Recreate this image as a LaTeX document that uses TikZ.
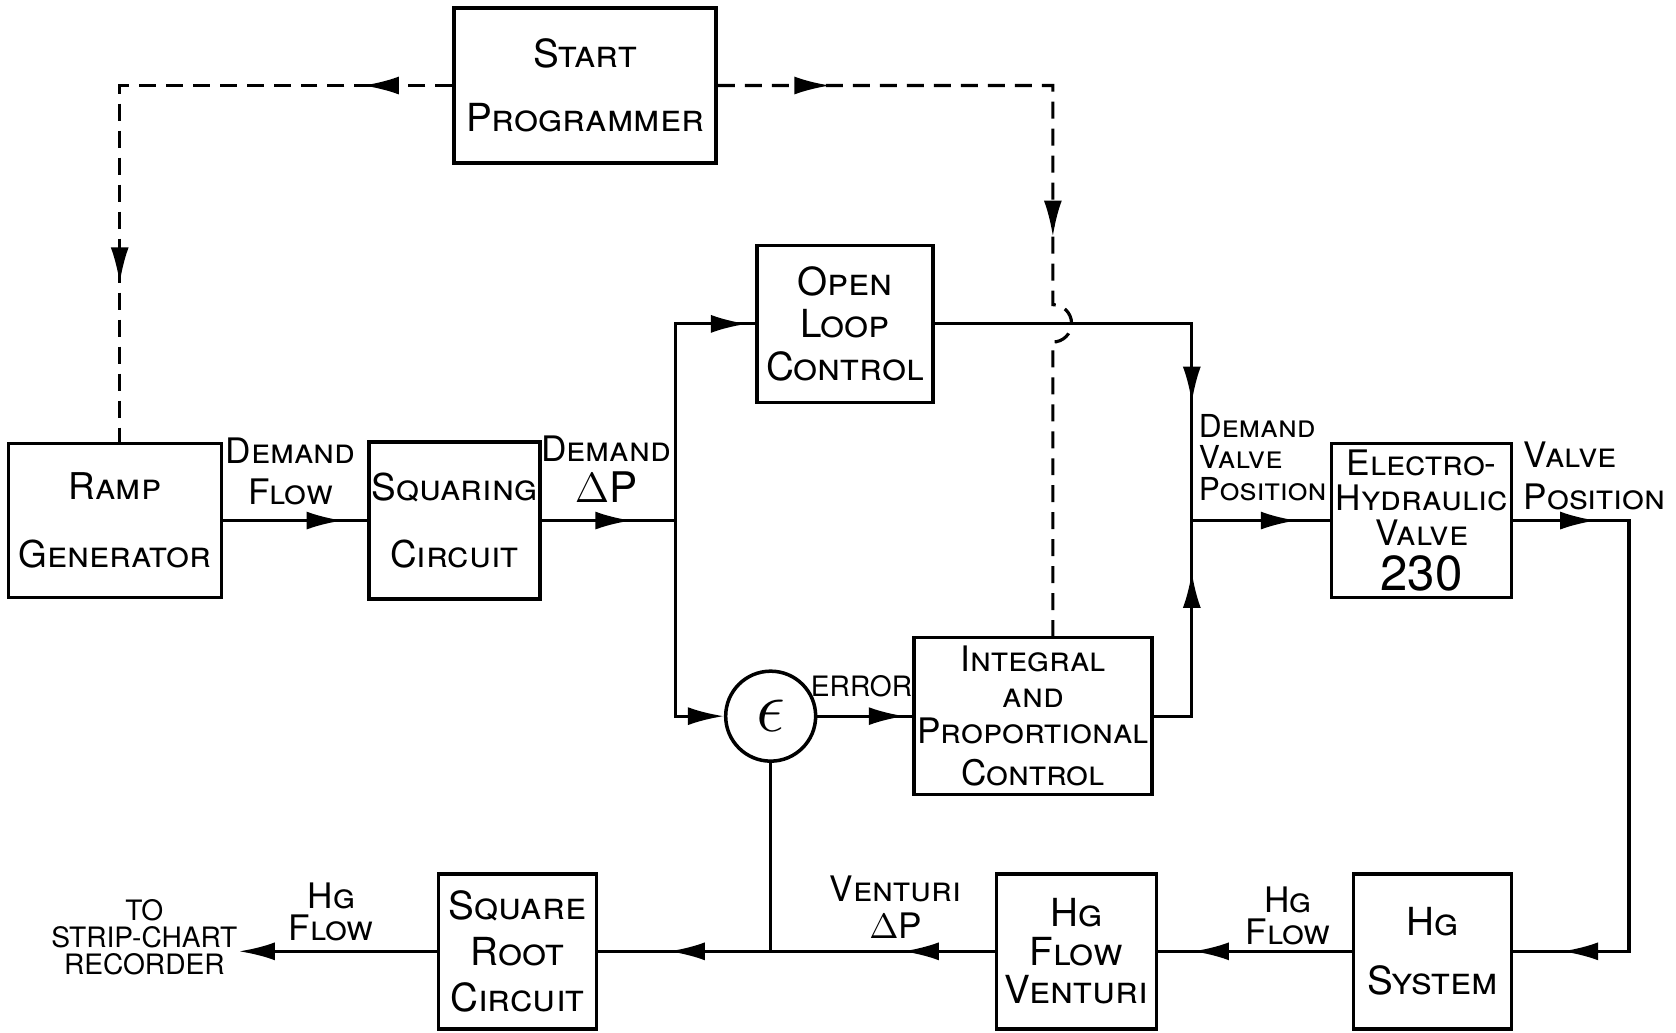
\documentclass[tikz,border=0pt]{standalone}
\usepackage{fontspec}
\setmainfont{TeX Gyre Heros}
\usetikzlibrary{calc,arrows.meta,decorations.markings}

\begin{document}
\begin{tikzpicture}[x=0.1069mm, y=-0.1069mm, line width=0.9pt,
	>={Latex[length=3.6mm,width=1.8mm]},
	block/.style={draw, rectangle, inner sep=0pt, align=center, line width=1pt, font=\fontsize{11}{13}\selectfont\scshape},
	lbl/.style={inner sep=0pt, align=center, font=\fontsize{10}{9}\selectfont\scshape},
	caplbl/.style={inner sep=0pt, align=center, font=\fontsize{8}{7.6}\selectfont},
	flow/.style={postaction={decorate, decoration={markings, mark=at position #1 with {\arrow{>}}}}},
	progline/.style={dash pattern=on 1.7mm off 1mm}]
					\useasboundingbox (0, 0) rectangle (1568, 966);

					% blocks
					\node[block, minimum width=26.2mm, minimum height=15.5mm] at (547.5, 80) (start) {Start\\[1.8mm]Programmer};
					\node[block, minimum width=21.3mm, minimum height=15.4mm, font=\fontsize{10.5}{13}\selectfont\scshape] at (107.5, 487) (ramp) {Ramp\\[2.2mm]Generator};
					\node[block, minimum width=17.1mm, minimum height=15.7mm, font=\fontsize{10.5}{13}\selectfont\scshape] at (425, 487) (squaring) {Squaring\\[2.2mm]Circuit};
					\node[block, minimum width=17.6mm, minimum height=15.7mm, font=\fontsize{11}{12}\selectfont\scshape] at (790.5, 303) (openloop) {Open\\Loop\\Control};
					\node[circle, draw, line width=1pt, minimum size=9mm, inner sep=0pt] at (721, 670) (err) {\huge$\epsilon$};
					\node[block, minimum width=23.8mm, minimum height=15.7mm, font=\fontsize{10}{10.3}\selectfont\scshape] at (966.5, 670) (integral) {Integral\\and\\Proportional\\[0.6mm]Control};
					\node[block, minimum width=18mm, minimum height=15.4mm, font=\fontsize{10}{10}\selectfont\scshape] at (1330, 487) (ehv) {Electro-\\Hydraulic\\Valve\\[1mm]{\fontsize{14}{14}\selectfont 230}};
					\node[block, minimum width=15.8mm, minimum height=15.5mm] at (1340, 890) (hgsys) {Hg\\[1.4mm]System};
					\node[block, minimum width=16mm, minimum height=15.5mm, font=\fontsize{11}{11}\selectfont\scshape] at (1007, 890) (venturi) {Hg\\Flow\\Venturi};
					\node[block, minimum width=15.8mm, minimum height=15.5mm] at (484, 890) (sqroot) {Square\\Root\\Circuit};

					% signal labels
					\node[lbl] at (272, 441) (dflow) {Demand\\[1mm]Flow};
					\node[lbl] at (567, 439) (ddp) {Demand\\[1mm]{\large$\Delta$P}};
					\node[caplbl] at (806, 642) (errlbl) {ERROR};
					\node[lbl, align=left, anchor=west, font=\fontsize{9}{9}\selectfont\scshape] at (1120, 428) (dvp) {Demand\\Valve\\Position};
					\node[lbl, align=left, anchor=west] at (1424, 445) (vpos) {Valve\\[1mm]Position};
					\node[lbl] at (1205, 857) (hgflow) {Hg\\Flow};
					\node[lbl] at (838, 849) (vdp) {Venturi\\[0.5mm]$\Delta$P};
					\node[lbl] at (310, 853) (outflow) {Hg\\Flow};
					\node[caplbl] at (135, 877) (recorder) {TO\\STRIP-CHART\\RECORDER};

					% junctions
					\coordinate (jdp) at (632, 487);
					\coordinate (jdv) at (1115, 487);
					\coordinate (vr) at (1524, 487);
					\coordinate (jv) at (721, 890);
					\coordinate (pl) at (112, 80);
					\coordinate (pr) at (985, 80);
					\coordinate (hopA) at (985, 285);

					% main loop
					\draw[flow=0.83] (ramp.east) -- (squaring.west);
					\draw[flow=0.67] (squaring.east) -- (jdp);
					\draw[flow=0.97] (jdp) |- (openloop.west);
					\draw[->] (jdp) |- (err.west);
					\draw[flow=0.92] (err.east) -- (integral.west);
					\draw[flow=0.74] (openloop.east) -| (jdv);
					\draw[flow=0.78] (integral.east) -| (jdv);
					\draw[flow=0.76] (jdv) -- (ehv.west);
					\draw[flow=0.125, flow=0.926] (ehv.east) -- (vr) |- (hgsys.east);
					\draw[flow=0.82] (hgsys.west) -- (venturi.east);
					\draw[flow=0.41] (venturi.west) -- (jv);
					\draw[flow=0.59] (jv) -- (sqroot.east);
					\draw (err.south) -- (jv);
					\draw[->] (sqroot.west) -- (sqroot.west -| recorder.east);

					% programmer lines
					\draw[progline, flow=0.13, flow=0.77] (start.west) -- (pl) -- (pl |- ramp.north);
					\draw[progline, flow=0.124, flow=0.536] (start.east) -- (pr) -- (hopA)
						arc[start angle=-90, end angle=90, radius=17.5] -- (hopA |- integral.north);
				\end{tikzpicture}
\end{document}
